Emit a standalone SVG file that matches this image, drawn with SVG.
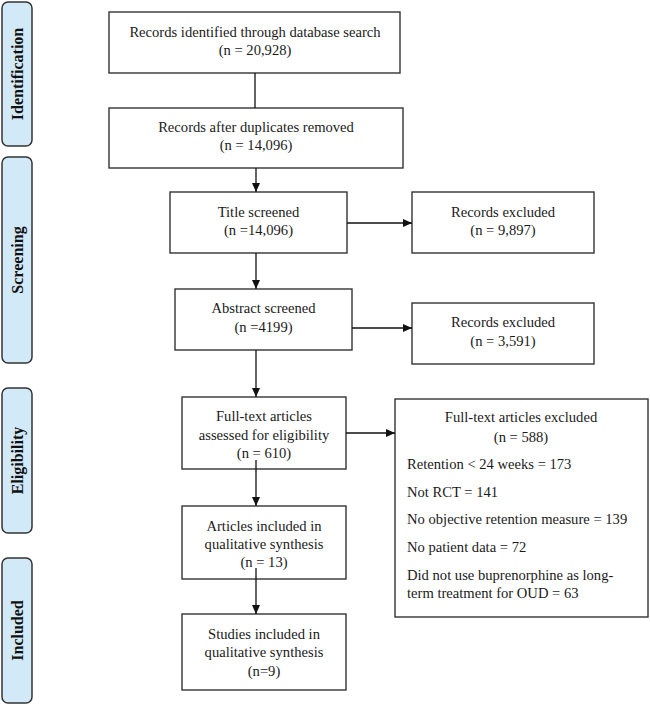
<svg xmlns="http://www.w3.org/2000/svg" width="650" height="704" viewBox="0 0 650 704">
<defs>
<marker id="arr" markerWidth="10" markerHeight="8" refX="9" refY="4" orient="auto" markerUnits="userSpaceOnUse">
<path d="M0,0 L9,4 L0,8 Z" fill="#111"/>
</marker>
</defs>
<style>
.box{fill:#fff;stroke:#333;stroke-width:1.4}
.lab{fill:#d2e9f8;stroke:#333;stroke-width:1.5}
.t{font-family:"Liberation Serif","Times New Roman",serif;font-size:14.6px;fill:#1a1a1a}
.c{text-anchor:middle}
.lt{font-family:"Liberation Serif","Times New Roman",serif;font-size:16px;font-weight:bold;fill:#111;text-anchor:middle}
.cn{stroke:#111;stroke-width:1.3;fill:none}
.ca{stroke:#111;stroke-width:1.3;fill:none;marker-end:url(#arr)}
</style>
<rect width="650" height="704" fill="#fff"/>

<g id="stage-identification">
<rect class="lab" x="2" y="2" width="30" height="144" rx="6"/>
<text class="lt" transform="translate(23,74) rotate(-90)">Identification</text>
</g>
<g id="stage-screening">
<rect class="lab" x="2" y="157" width="30" height="206" rx="6"/>
<text class="lt" transform="translate(23,260) rotate(-90)">Screening</text>
</g>
<g id="stage-eligibility">
<rect class="lab" x="2" y="388" width="30" height="145" rx="6"/>
<text class="lt" transform="translate(23,460.5) rotate(-90)">Eligibility</text>
</g>
<g id="stage-included">
<rect class="lab" x="2" y="558" width="30" height="145" rx="6"/>
<text class="lt" transform="translate(23,630.5) rotate(-90)">Included</text>
</g>

<g id="n-identified">
<rect class="box" x="109" y="12" width="291" height="61"/>
<text class="t c" x="255" y="37">Records identified through database search</text>
<text class="t c" x="255" y="55">(n = 20,928)</text>
</g>
<g id="n-duplicates">
<rect class="box" x="109" y="108" width="294" height="60"/>
<text class="t c" x="256" y="132">Records after duplicates removed</text>
<text class="t c" x="256" y="150">(n = 14,096)</text>
</g>
<g id="n-title">
<rect class="box" x="170" y="192" width="177" height="61"/>
<text class="t c" x="258.5" y="217">Title screened</text>
<text class="t c" x="258.5" y="235">(n =14,096)</text>
</g>
<g id="n-excl1">
<rect class="box" x="412" y="192" width="182" height="61"/>
<text class="t c" x="503" y="217">Records excluded</text>
<text class="t c" x="503" y="235">(n = 9,897)</text>
</g>
<g id="n-abstract">
<rect class="box" x="175" y="289" width="177" height="61"/>
<text class="t c" x="263.5" y="313">Abstract screened</text>
<text class="t c" x="263.5" y="332">(n =4199)</text>
</g>
<g id="n-excl2">
<rect class="box" x="412" y="303" width="182" height="61"/>
<text class="t c" x="503" y="327">Records excluded</text>
<text class="t c" x="503" y="346">(n = 3,591)</text>
</g>
<g id="n-fulltext">
<rect class="box" x="182" y="397" width="164" height="72"/>
<text class="t c" x="264" y="421">Full-text articles</text>
<text class="t c" x="264" y="440">assessed for eligibility</text>
<text class="t c" x="264" y="458">(n = 610)</text>
</g>
<g id="n-excl3">
<rect class="box" x="395" y="399" width="253" height="218"/>
<text class="t c" x="521" y="422">Full-text articles excluded</text>
<text class="t c" x="521" y="442">(n = 588)</text>
<text class="t" x="407" y="469">Retention &lt; 24 weeks = 173</text>
<text class="t" x="407" y="497">Not RCT = 141</text>
<text class="t" x="407" y="524">No objective retention measure = 139</text>
<text class="t" x="407" y="552">No patient data = 72</text>
<text class="t" x="407" y="580">Did not use buprenorphine as long-</text>
<text class="t" x="407" y="598">term treatment for OUD = 63</text>
</g>
<g id="n-articles">
<rect class="box" x="182" y="506" width="164" height="73"/>
<text class="t c" x="264" y="531">Articles included in</text>
<text class="t c" x="264" y="549">qualitative synthesis</text>
<text class="t c" x="264" y="567">(n = 13)</text>
</g>
<g id="n-studies">
<rect class="box" x="182" y="614" width="164" height="76"/>
<text class="t c" x="264" y="639">Studies included in</text>
<text class="t c" x="264" y="657">qualitative synthesis</text>
<text class="t c" x="264" y="676">(n=9)</text>
</g>

<g id="connectors">
<line class="cn" x1="255" y1="73" x2="255" y2="108"/>
<line class="ca" x1="256" y1="168" x2="256" y2="192"/>
<line class="ca" x1="347" y1="223" x2="412" y2="223"/>
<line class="ca" x1="256" y1="253" x2="256" y2="289"/>
<line class="ca" x1="352" y1="328" x2="412" y2="328"/>
<line class="ca" x1="256" y1="350" x2="256" y2="397"/>
<line class="ca" x1="346" y1="433" x2="395" y2="433"/>
<line class="ca" x1="256" y1="460" x2="256" y2="506"/>
<line class="ca" x1="256" y1="568" x2="256" y2="614"/>
</g>
</svg>
